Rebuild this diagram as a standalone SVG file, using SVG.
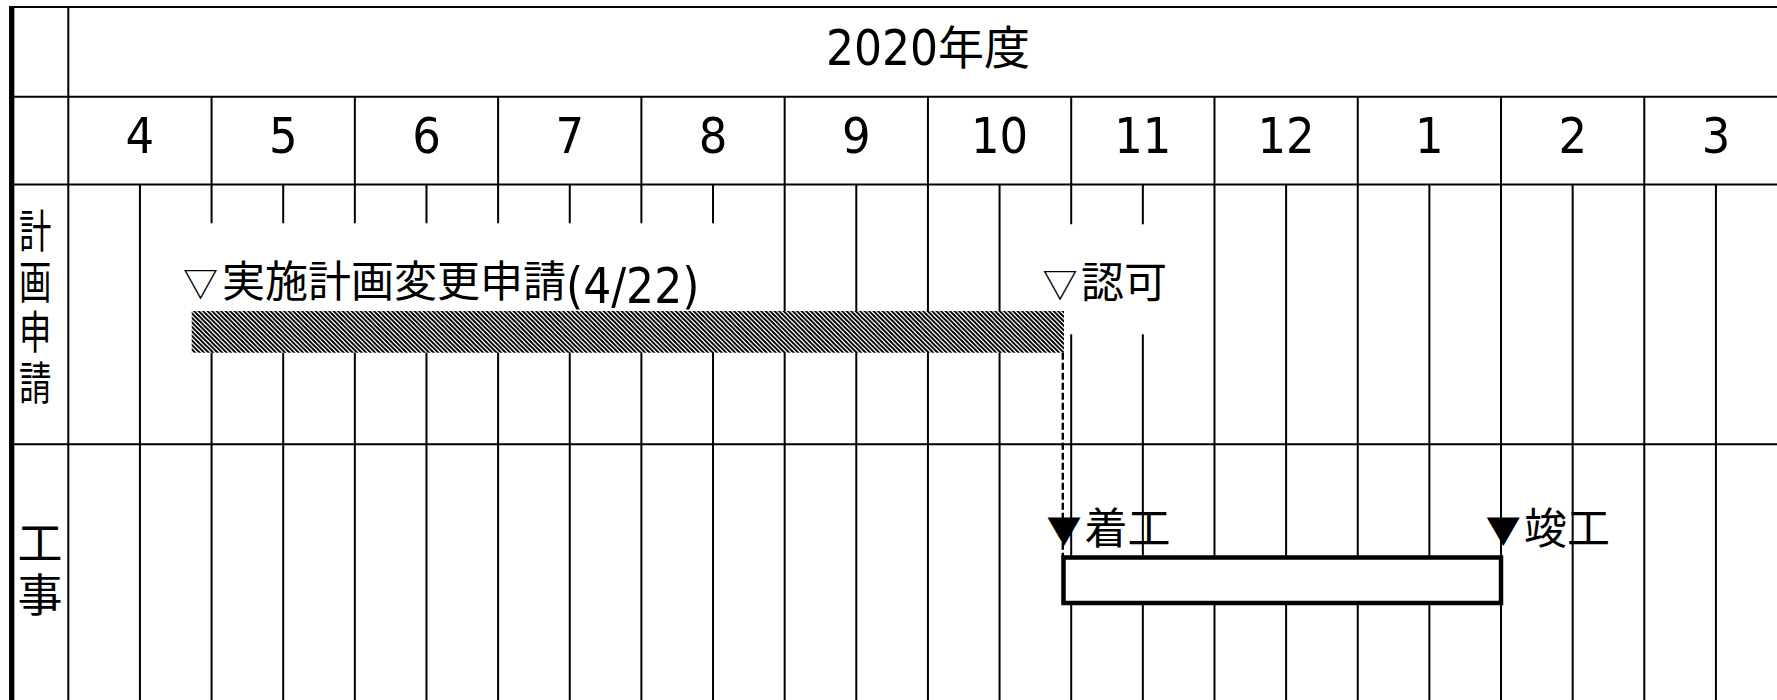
<svg xmlns="http://www.w3.org/2000/svg" width="1777" height="700" viewBox="0 0 1777 700">
<style>
.ln{stroke:#000;stroke-width:2;fill:none}
.jp{font-family:"Noto Sans CJK JP",sans-serif;font-size:43px;fill:#000}
.tri{font-size:35px}
.jph{font-family:"Noto Sans CJK JP",sans-serif;font-size:46px;fill:#000}
.num{font-family:"DejaVu Sans Condensed","DejaVu Sans",sans-serif;font-stretch:condensed;font-size:49px;fill:#000}
.mon{font-family:"DejaVu Sans Condensed","DejaVu Sans",sans-serif;font-stretch:condensed;font-size:50px;fill:#000;text-anchor:middle}
.vl{font-family:"Noto Sans CJK JP",sans-serif;fill:#000;writing-mode:vertical-rl}
</style>
<defs>
<pattern id="hatch" patternUnits="userSpaceOnUse" width="4.5" height="4.5">
<rect width="4.5" height="4.5" fill="#fff"/>
<path d="M-1,-1 L5.5,5.5 M-1,3.5 L1,5.5 M3.5,-1 L5.5,1" stroke="#000" stroke-width="1.8" shape-rendering="crispEdges"/>
</pattern>
</defs>
<rect width="1777" height="700" fill="#fff"/>
<g id="grid">
<path class="ln" d="M12,7H1777 M12,96.7H1777 M12,184.5H1777 M12,444.3H1777 M68.3,7V700"/>
<path class="ln" d="M211.57,96.7V184.5 M354.84,96.7V184.5 M498.12,96.7V184.5 M641.39,96.7V184.5 M784.66,96.7V184.5 M927.93,96.7V184.5 M1071.2,96.7V184.5 M1214.48,96.7V184.5 M1357.75,96.7V184.5 M1501.02,96.7V184.5 M1644.29,96.7V184.5"/>
<path class="ln" d="M139.94,184.5V700 M211.57,184.5V700 M283.21,184.5V700 M354.84,184.5V700 M426.48,184.5V700 M498.12,184.5V700 M569.75,184.5V700 M641.39,184.5V700 M713.02,184.5V700 M784.66,184.5V700 M856.3,184.5V700 M927.93,184.5V700 M999.57,184.5V700 M1071.2,184.5V700 M1142.84,184.5V700 M1214.48,184.5V700 M1286.11,184.5V700 M1357.75,184.5V700 M1429.38,184.5V700 M1501.02,184.5V700 M1572.66,184.5V700 M1644.29,184.5V700 M1715.93,184.5V700"/>
<path d="M11.7,6V700" stroke="#000" stroke-width="5.3"/>
</g>
<g id="header">
<text x="928" y="65" text-anchor="middle"><tspan class="num" font-size="51">2020</tspan><tspan class="jph" dy="-1">年度</tspan></text>
<text class="mon" x="139.9" y="153.3">4</text>
<text class="mon" x="283.2" y="153.3">5</text>
<text class="mon" x="426.5" y="153.3">6</text>
<text class="mon" x="569.7" y="153.3">7</text>
<text class="mon" x="713" y="153.3">8</text>
<text class="mon" x="856.3" y="153.3">9</text>
<text class="mon" x="999.6" y="153.3">10</text>
<text class="mon" x="1142.8" y="153.3">11</text>
<text class="mon" x="1286.1" y="153.3">12</text>
<text class="mon" x="1429.4" y="153.3">1</text>
<text class="mon" x="1572.7" y="153.3">2</text>
<text class="mon" x="1716" y="153.3">3</text>
</g>
<g id="row-keikaku">
<text class="vl" font-size="45" letter-spacing="5.5" transform="translate(35.3,208.5) scale(0.72,1)" x="0" y="0">計画申請</text>
</g>
<g id="row-kouji">
<text class="vl" font-size="45" letter-spacing="6.7" x="40" y="520.8">工事</text>
</g>
<g id="task-shinsei">
<rect x="190" y="223.3" width="530" height="88" fill="#fff"/>
<rect x="1030" y="224.3" width="145" height="110" fill="#fff"/>
<rect x="191.7" y="311" width="872.3" height="41.7" fill="url(#hatch)"/>
<text class="jp" x="183" y="297"><tspan class="tri">▽</tspan><tspan dx="4">実施計画変更申請</tspan><tspan class="num" y="302.7">(4/22)</tspan></text>
</g>
<g id="milestone-ninka">
<text class="jp" x="1042.4" y="297.5"><tspan class="tri">▽</tspan><tspan dx="3.6">認可</tspan></text>
</g>
<g id="connectors">
<path d="M1062.8,352.7V557" stroke="#000" stroke-width="2.4" stroke-dasharray="7 3" fill="none"/>
</g>
<g id="task-kouji">
<rect x="1063.5" y="557.5" width="437.5" height="45.5" fill="#fff" stroke="#000" stroke-width="4.5"/>
</g>
<g id="milestone-chakkou">
<text class="jp" x="1046.4" y="543.5"><tspan class="tri">▼</tspan><tspan dx="3.2">着工</tspan></text>
</g>
<g id="milestone-shunkou">
<text class="jp" x="1485.8" y="543.5"><tspan class="tri">▼</tspan><tspan dx="3.2">竣工</tspan></text>
</g>
</svg>
